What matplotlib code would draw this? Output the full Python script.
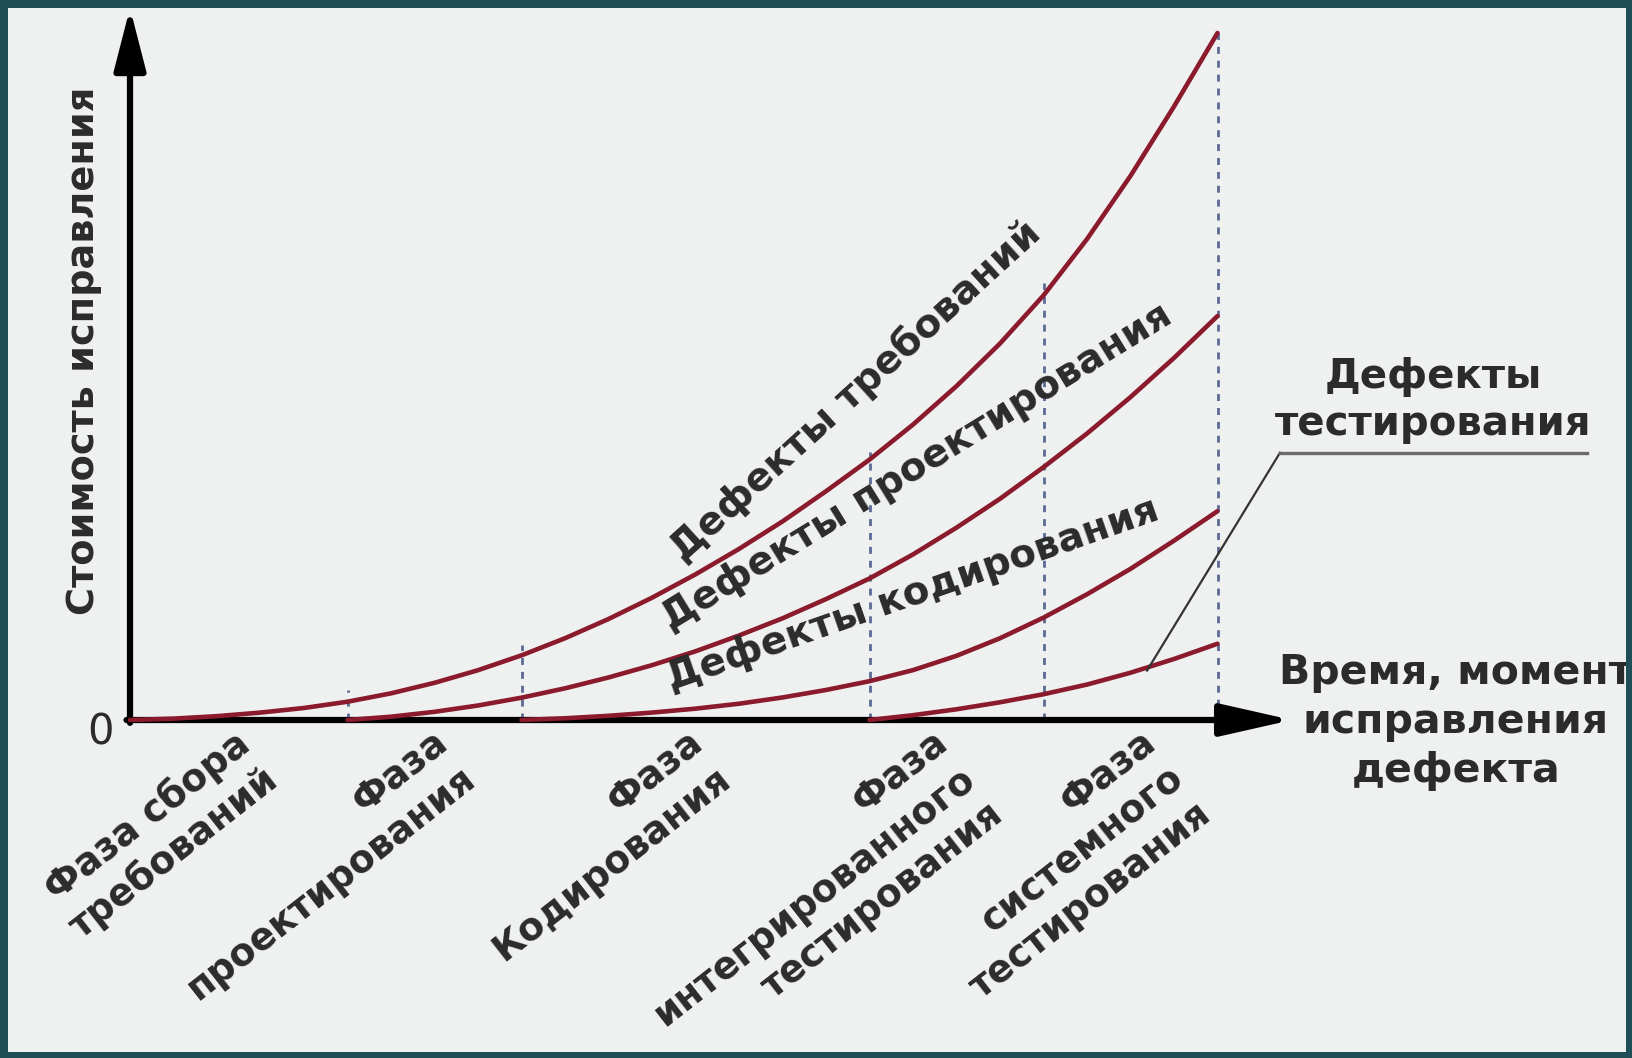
import matplotlib
matplotlib.use('Agg')
import numpy as np
import matplotlib.pyplot as plt
from matplotlib.patches import Rectangle

plt.rcParams['font.family'] = ['DejaVu Sans']

# phase boundaries on the time axis (phase units)
phase_bounds = [0, 1.25, 2.25, 4.25, 5.25, 6.25]
phase_labels = ['Фаза сбора\nтребований',
                'Фаза\nпроектирования',
                'Фаза\nКодирования',
                'Фаза\nинтегрированного\nтестирования',
                'Фаза\nсистемного\nтестирования']

# cost curves (relative units, 100 = max)
req_x = [0, 0.25, 0.5, 0.75, 1, 1.25, 1.5, 1.75, 2, 2.25, 2.5, 2.75, 3, 3.25,
         3.5, 3.75, 4, 4.25, 4.5, 4.75, 5, 5.25, 5.5, 5.75, 6, 6.25]
req_y = [0, 0.2, 0.56, 1.08, 1.75, 2.66, 3.88, 5.41, 7.25, 9.41, 11.9, 14.7,
         17.8, 21.2, 24.9, 28.9, 33.3, 37.9, 43.0, 48.6, 54.8, 61.8, 70.0,
         79.2, 89.3, 100]

des_x = [1.25, 1.5, 1.75, 2, 2.25, 2.5, 2.75, 3, 3.25, 3.5, 3.75, 4, 4.25,
         4.5, 4.75, 5, 5.25, 5.5, 5.75, 6, 6.25]
des_y = [0, 0.48, 1.19, 2.11, 3.25, 4.61, 6.19, 7.98, 10.0, 12.3, 14.8, 17.6,
         20.6, 24.1, 28.0, 32.2, 36.8, 41.7, 47.0, 52.7, 58.8]

cod_x = [2.25, 2.5, 2.75, 3, 3.25, 3.5, 3.75, 4, 4.25, 4.5, 4.75, 5, 5.25,
         5.5, 5.75, 6, 6.25]
cod_y = [0, 0.25, 0.61, 1.08, 1.65, 2.37, 3.28, 4.37, 5.65, 7.26, 9.34, 11.9,
         14.9, 18.3, 22.0, 26.1, 30.4]

tst_x = [4.25, 4.5, 4.75, 5, 5.25, 5.5, 5.75, 6, 6.25]
tst_y = [0, 0.7, 1.56, 2.58, 3.75, 5.16, 6.88, 8.88, 11.1]

# heights of the dotted phase markers
marker_h = [4.4, 10.9, 39.0, 63.6, 100]

W, H = 1632, 1058
teal = '#1e4f57'
fig = plt.figure(figsize=(W / 100, H / 100), dpi=100)
fig.patch.set_facecolor(teal)
fig.add_artist(Rectangle((0, 0), 1, 1, transform=fig.transFigure,
                         facecolor='#eef1f0', edgecolor='none', zorder=-5))

px = 174.0   # pixels per phase unit
py = 6.87    # pixels per cost unit
ax = fig.add_axes([130 / W, (H - 720) / H, (1292 - 130) / W, (720 - 8) / H])
ax.set_xlim(0, (1292 - 130) / px)
ax.set_ylim(0, (720 - 8) / py)
ax.set_facecolor('none')
ax.axis('off')

# axes with arrows
ax.annotate('', xy=(1, 0), xytext=(-0.003, 0), xycoords='axes fraction',
            arrowprops=dict(arrowstyle='-|>,head_length=1.15,head_width=0.26',
                            mutation_scale=38, lw=4.5, color='black',
                            shrinkA=0, shrinkB=0), zorder=2)
ax.annotate('', xy=(0, 1), xytext=(0, -0.004), xycoords='axes fraction',
            arrowprops=dict(arrowstyle='-|>,head_length=1.05,head_width=0.27',
                            mutation_scale=36, lw=4.5, color='black',
                            shrinkA=0, shrinkB=0), zorder=2)

# dotted phase markers
for xb, h in zip(phase_bounds[1:], marker_h):
    ax.plot([xb, xb], [0, h], color='#5c6a94', lw=2, ls=(0, (2.5, 2.5)), zorder=1)

red = '#8a1a2c'
for xs, ys in [(req_x, req_y), (des_x, des_y), (cod_x, cod_y), (tst_x, tst_y)]:
    ax.plot(xs, ys, color=red, lw=3.3, solid_capstyle='round',
            solid_joinstyle='round', zorder=3, clip_on=False)

txt = '#2b2b2b'
ax.text(-0.17, -1.75, '0', fontsize=30, color=txt, ha='center', va='center')

# curve captions
captions = [('Дефекты требований', 4.17, 47.8, 42.3),
            ('Дефекты проектирования', 4.52, 36.9, 31.6),
            ('Дефекты кодирования', 4.5, 18.3, 19.3)]
for s, x, y, rot in captions:
    ax.text(x, y, s, fontsize=28, fontweight='bold', color=txt,
            rotation=rot, ha='center', va='center', rotation_mode='anchor')

# phase labels under the axis: each line right-aligned at the label's upper end,
# following lines shifted perpendicular to the text direction
label_pos = [(0.598, -0.6), (1.736, -0.6), (3.201, -0.6), (4.609, -0.6), (5.805, -0.6)]
rot = 38
pitch = 33  # points between lines
sx, sy = np.sin(np.radians(rot)), -np.cos(np.radians(rot))
for s, (x, y) in zip(phase_labels, label_pos):
    for i, line in enumerate(s.split('\n')):
        ax.annotate(line, xy=(x, y), xytext=(i * pitch * sx, i * pitch * sy),
                    textcoords='offset points', fontsize=27, fontweight='bold',
                    color=txt, rotation=rot, ha='right', va='top',
                    rotation_mode='anchor', annotation_clip=False)

# testing-defects caption with leader line
ax.plot([5.845, 6.609], [7.2, 38.9], color='#333333', lw=1.6, clip_on=False, zorder=4)
ax.plot([6.609, 8.374], [38.9, 38.9], color='#6b6b6b', lw=2.4, clip_on=False, zorder=4)
ax.text(7.49, 46.5, 'Дефекты\nтестирования', fontsize=29, fontweight='bold',
        color=txt, ha='center', va='center', linespacing=1.22, clip_on=False)

# axis titles
ax.text(7.62, -0.3, 'Время, момент\nисправления\nдефекта', fontsize=29.5,
        fontweight='bold', color=txt, ha='center', va='center',
        linespacing=1.28, clip_on=False)
fig.text(84 / W, 1 - 351 / H, 'Стоимость исправления', fontsize=27.5,
         fontweight='bold', color=txt, rotation=90, ha='center', va='center')

# teal frame drawn over everything so long text gets cut like in the picture
for r in [(0, 0, 8, H), (1626, 0, W - 1626, H), (0, 0, W, 8), (0, 1052, W, H - 1052)]:
    fig.add_artist(Rectangle((r[0] / W, 1 - (r[1] + r[3]) / H), r[2] / W, r[3] / H,
                             transform=fig.transFigure, facecolor=teal,
                             edgecolor='none', zorder=20))

fig.savefig('out.png', dpi=100, facecolor=fig.get_facecolor())
